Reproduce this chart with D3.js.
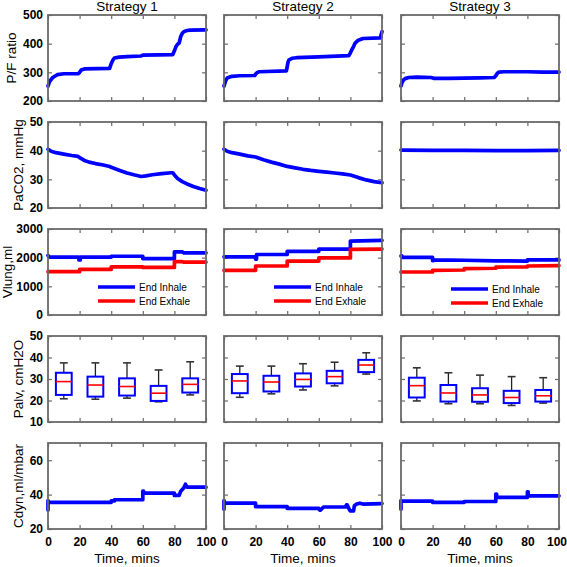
<!DOCTYPE html>
<html><head><meta charset="utf-8">
<script src="https://cdn.jsdelivr.net/npm/d3@7"></script>
<style>body{margin:0;background:#fff}text{font-family:"Liberation Sans",Arial,sans-serif}</style>
</head><body><svg id="c" width="567" height="567"></svg>
<script>
const strategies = ["Strategy 1", "Strategy 2", "Strategy 3"];
const xTicks = [0, 20, 40, 60, 80, 100];
const rowLabels = ["P/F ratio", "PaCO2, mmHg", "Vlung,ml", "Palv, cmH2O", "Cdyn,ml/mbar"];
const rowDomains = [[200, 500], [20, 50], [0, 3000], [10, 50], [20, 70]];
const rowTicks = [[200, 300, 400, 500], [20, 30, 40, 50], [0, 1000, 2000, 3000], [10, 20, 30, 40, 50], [20, 40, 60]];
const legendLabels = ["End Inhale", "End Exhale"];

// P/F ratio
const pfT1 = [0, 1, 3, 6, 10, 19, 20, 21, 23, 39, 40, 41, 42, 45, 50, 59, 60, 70, 79, 80, 81, 82, 83, 84, 85, 86, 88, 90, 100];
const pfV1 = [252, 268, 282, 292, 295, 295, 300, 308, 312, 314, 330, 342, 350, 353, 355, 357, 360, 361, 362, 375, 390, 398, 402, 425, 436, 442, 446, 447, 448];
const pfT2 = [0, 1, 2, 5, 10, 19.5, 20, 21, 22, 39.5, 40, 40.5, 41, 43, 46, 60, 79, 80, 81, 82, 83, 85, 88, 99, 99.5, 100];
const pfV2 = [252, 270, 280, 286, 288, 289, 294, 299, 302, 305, 320, 335, 343, 349, 351, 354, 358, 368, 380, 390, 402, 412, 418, 420, 432, 442];
const pfT3 = [0, 0.5, 1.5, 3, 5, 10, 19, 21, 30, 40, 50, 59, 60, 61, 62, 65, 80, 90, 100];
const pfV3 = [252, 262, 273, 279, 282, 283, 282, 279, 279, 280, 281, 282, 288, 297, 301, 302, 302, 301, 301];

// PaCO2
const coT1 = [0, 2, 5, 10, 15, 19, 20, 23, 26, 30, 35, 39, 40, 45, 50, 55, 59, 62, 66, 72, 78, 79, 80, 82, 85, 88, 92, 96, 100];
const coV1 = [40.5, 39.8, 39.3, 38.8, 38.3, 38, 37.6, 36.6, 36, 35.5, 35, 34.5, 34.2, 33.2, 32.2, 31.5, 31, 31.2, 31.6, 32, 32.3, 32.3, 31.5, 30.3, 29.2, 28.4, 27.5, 26.8, 26.2];
const coT2 = [0, 2, 5, 10, 15, 20, 25, 30, 35, 40, 45, 50, 55, 60, 65, 70, 75, 80, 85, 90, 95, 100];
const coV2 = [40.5, 39.8, 39.3, 38.8, 38.2, 37.8, 36.8, 36, 35.3, 34.5, 34, 33.5, 33.1, 32.8, 32.5, 32.2, 31.9, 31.5, 30.6, 29.8, 29.2, 28.8];
const coT3 = [0, 20, 40, 60, 80, 100];
const coV3 = [40.2, 40.1, 40.1, 40.0, 40.0, 40.1];

// Vlung end inhale / end exhale
const inT1 = [0, 0.5, 1, 19.6, 19.6, 20.4, 20.4, 40, 40, 60, 60, 80, 80, 85, 86, 100];
const inV1 = [2080, 2030, 2020, 2020, 1920, 1920, 2020, 2020, 2050, 2050, 1970, 1970, 2200, 2200, 2170, 2170];
const exT1 = [0, 20, 20, 40, 40, 60, 60, 80, 80, 85, 86, 100];
const exV1 = [1510, 1510, 1590, 1590, 1680, 1680, 1660, 1660, 1860, 1860, 1845, 1845];
const inT2 = [0, 20, 20, 20.6, 20.6, 40, 40, 60, 60, 80, 80, 100];
const inV2 = [2030, 2030, 1950, 1950, 2110, 2110, 2220, 2220, 2300, 2300, 2580, 2600];
const exT2 = [0, 20, 20, 40, 40, 60, 60, 80, 80, 100];
const exV2 = [1560, 1560, 1710, 1710, 1880, 1880, 1990, 1990, 2290, 2300];
const inT3 = [0, 0.5, 1, 20, 20, 20.6, 20.6, 40, 40, 60, 60, 80, 80, 100];
const inV3 = [2060, 2060, 2010, 2010, 1900, 1900, 1920, 1910, 1910, 1890, 1890, 1880, 1920, 1920];
const exT3 = [0, 20, 20, 40, 40, 60, 60, 80, 80, 100];
const exV3 = [1500, 1500, 1560, 1570, 1620, 1630, 1670, 1680, 1710, 1720];

// Palv boxplots: [lower whisker, q1, median, q3, upper whisker]
const boxTimes = [10, 30, 50, 70, 90];
const palv1 = [[20.8, 22.6, 28.8, 32.9, 37.5], [20.6, 21.8, 27.2, 31.1, 37.5], [21.1, 22.3, 26.5, 30.3, 37.5], [19.4, 19.8, 23.4, 26.8, 34.2], [22.6, 23.7, 27.5, 30.3, 38]];
const palv2 = [[21.5, 23.4, 29.1, 32.3, 36], [23.1, 24.2, 28.6, 31.5, 36], [24.9, 26.5, 29.8, 32.6, 37.1], [26.8, 28, 31.1, 33.8, 37.8], [32.3, 33.2, 36.5, 38.9, 42.2]];
const palv3 = [[19.8, 21.4, 26.9, 30.6, 35.2], [18.5, 19.5, 23.5, 27.2, 32.9], [18.5, 19.4, 22.6, 25.7, 31.8], [17.7, 18.8, 21.4, 24.5, 31.1], [18.8, 19.5, 22.2, 24.9, 30.6]];

// Cdyn
const cdT1 = [0, 0, 0.5, 40, 40, 42, 42, 60, 60, 60.5, 60.5, 80, 80, 83, 84, 85, 86, 87, 88, 100];
const cdV1 = [31, 36.5, 35.5, 35.5, 36.3, 36.3, 37, 37, 42, 42, 40.8, 40.8, 39.5, 39.5, 42, 43, 44, 46, 44.3, 44.3];
const cdT2 = [0, 0, 0.5, 20, 20, 40, 40, 60, 60.5, 61, 63, 63.5, 77, 77.5, 78, 79.5, 80, 82, 82.5, 84, 86, 88, 100];
const cdV2 = [31.5, 36.5, 35, 35, 33, 33, 32, 32, 31, 31, 32.8, 32.8, 32.8, 34, 34, 31, 30.5, 30.5, 33.5, 34.5, 35, 34.5, 34.8];
const cdT3 = [0, 0, 0.5, 20, 20, 40, 40, 60, 60, 60.5, 60.5, 80, 80, 80.5, 80.5, 100];
const cdV3 = [31.5, 36.5, 36.2, 36.2, 35.5, 35.5, 36, 36, 40.3, 40.3, 38.4, 38.4, 41.6, 41.6, 39.3, 39.3];

const zip = (t, v) => t.map((d, i) => [d, v[i]]);
const lineRows = [
  [[zip(pfT1, pfV1)], [zip(pfT2, pfV2)], [zip(pfT3, pfV3)]],
  [[zip(coT1, coV1)], [zip(coT2, coV2)], [zip(coT3, coV3)]],
  [[zip(inT1, inV1), zip(exT1, exV1)], [zip(inT2, inV2), zip(exT2, exV2)], [zip(inT3, inV3), zip(exT3, exV3)]],
  null,
  [[zip(cdT1, cdV1)], [zip(cdT2, cdV2)], [zip(cdT3, cdV3)]]
];
const boxSets = [palv1, palv2, palv3];
const seriesColors = ["#0000ff", "#ff0000"];

const svg = d3.select("#c");
const colX = [48, 224, 401], pw = 158, ph = 86;
const rowY = [15, 122, 229, 336, 443];
const frameColor = "#6a6a6a";

strategies.forEach((s, c) => {
  svg.append("text").attr("x", colX[c] + pw / 2).attr("y", 11).attr("text-anchor", "middle")
    .attr("font-size", 13.5).text(s);
});

rowLabels.forEach((lab, r) => {
  let minTickX = 48;
  for (let c = 0; c < 3; c++) {
    const g = svg.append("g").attr("transform", `translate(${colX[c]},${rowY[r]})`);
    const x = d3.scaleLinear().domain([0, 100]).range([0, pw]);
    const y = d3.scaleLinear().domain(rowDomains[r]).range([ph, 0]);

    const styleAxis = a => {
      a.select(".domain").remove();
      a.selectAll(".tick line").attr("stroke", frameColor).attr("stroke-width", 1.2);
      a.selectAll(".tick text").attr("font-size", 12).attr("font-weight", "bold")
        .attr("font-family", '"Liberation Sans",Arial,sans-serif').attr("fill", "#000");
    };
    const yAx = g.append("g").call(d3.axisLeft(y).tickValues(rowTicks[r]).tickSize(-4).tickPadding(5)
      .tickFormat(c === 0 ? d3.format("d") : () => "")).call(styleAxis);
    if (c === 0) {
      yAx.selectAll(".tick text").each(function () {
        const b = this.getBBox();
        minTickX = Math.min(minTickX, colX[0] + b.x);
      });
    }
    g.append("g").attr("transform", `translate(${pw},0)`)
      .call(d3.axisRight(y).tickValues(rowTicks[r]).tickSize(-4).tickFormat(() => "")).call(styleAxis);
    const xAx = g.append("g").attr("transform", `translate(0,${ph})`)
      .call(d3.axisBottom(x).tickValues(xTicks).tickSize(-4).tickPadding(8)
        .tickFormat(r === 4 ? d3.format("d") : () => "")).call(styleAxis);
    if (r === 4 && c === 2) {
      xAx.selectAll(".tick text").filter(d => d === 100).attr("dx", -2.5);
    }
    g.append("g").call(d3.axisTop(x).tickValues(xTicks).tickSize(-4).tickFormat(() => "")).call(styleAxis);

    if (lineRows[r]) {
      const line = d3.line().x(d => x(d[0])).y(d => y(d[1]));
      lineRows[r][c].forEach((ser, k) => {
        g.append("path").attr("d", line(ser)).attr("fill", "none")
          .attr("stroke", seriesColors[k]).attr("stroke-width", 3.7)
          .attr("stroke-linejoin", "round").attr("stroke-linecap", "round");
      });
      if (r === 2) {
        legendLabels.forEach((l, k) => {
          const ly = 58 + k * 14 + (c === 2 ? 2 : 0);
          g.append("line").attr("x1", 50).attr("x2", 87).attr("y1", ly).attr("y2", ly)
            .attr("stroke", seriesColors[k]).attr("stroke-width", 3.5);
          g.append("text").attr("x", 91).attr("y", ly + 3.5).attr("font-size", 10).text(l);
        });
      }
    } else {
      boxSets[c].forEach((b, i) => {
        const t = boxTimes[i];
        const cx = x(t), x0 = x(t - 5), x1 = x(t + 5), c0 = x(t - 2.5), c1 = x(t + 2.5);
        g.append("line").attr("x1", cx).attr("x2", cx).attr("y1", y(b[4])).attr("y2", y(b[3]))
          .attr("stroke", "#222").attr("stroke-width", 1.3);
        g.append("line").attr("x1", cx).attr("x2", cx).attr("y1", y(b[1])).attr("y2", y(b[0]))
          .attr("stroke", "#222").attr("stroke-width", 1.3);
        g.append("line").attr("x1", c0).attr("x2", c1).attr("y1", y(b[4])).attr("y2", y(b[4]))
          .attr("stroke", "#333").attr("stroke-width", 1.6);
        g.append("line").attr("x1", c0).attr("x2", c1).attr("y1", y(b[0])).attr("y2", y(b[0]))
          .attr("stroke", "#333").attr("stroke-width", 1.6);
        g.append("rect").attr("x", x0).attr("y", y(b[3])).attr("width", x1 - x0).attr("height", y(b[1]) - y(b[3]))
          .attr("fill", "#fff").attr("stroke", "#0000ff").attr("stroke-width", 2);
        g.append("line").attr("x1", x0).attr("x2", x1).attr("y1", y(b[2])).attr("y2", y(b[2]))
          .attr("stroke", "#ff0000").attr("stroke-width", 1.6);
      });
    }
    g.append("rect").attr("x", 0).attr("y", 0).attr("width", pw).attr("height", ph)
      .attr("fill", "none").attr("stroke", frameColor).attr("stroke-width", 1.8);
  }
  svg.append("text").attr("transform", `translate(${Math.max(minTickX - 7, 11.5)},${rowY[r] + ph / 2}) rotate(-90)`)
    .attr("text-anchor", "middle").attr("font-size", 13.5).text(lab);
});

colX.forEach(cx => {
  svg.append("text").attr("x", cx + pw / 2).attr("y", 563).attr("text-anchor", "middle")
    .attr("font-size", 13.5).text("Time, mins");
});
</script></body></html>
